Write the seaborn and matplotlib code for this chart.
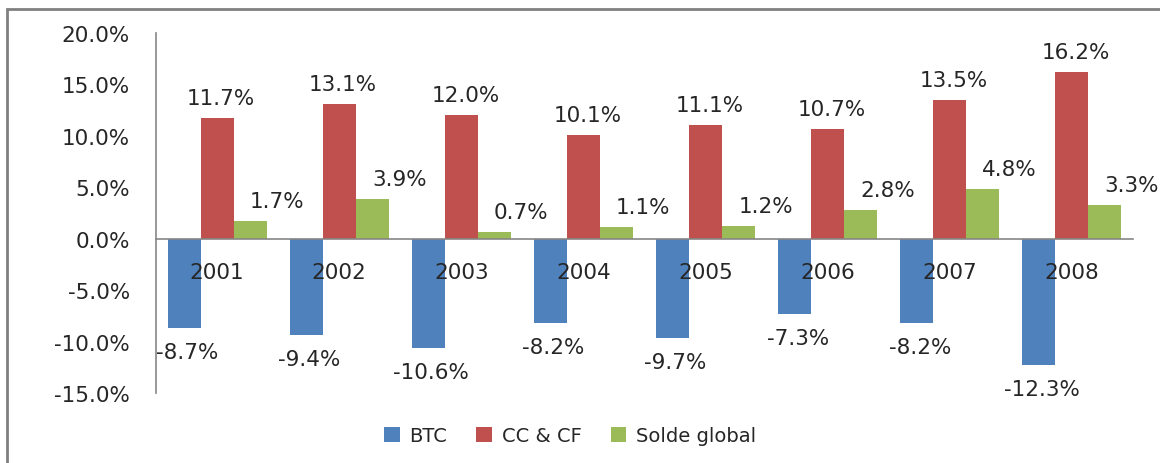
import matplotlib
matplotlib.use("Agg")
import matplotlib.pyplot as plt
from matplotlib.patches import Rectangle
from matplotlib.ticker import FuncFormatter
import seaborn as sns
import pandas as pd

years = ["2001", "2002", "2003", "2004", "2005", "2006", "2007", "2008"]
btc = [-8.7, -9.4, -10.6, -8.2, -9.7, -7.3, -8.2, -12.3]
cc_cf = [11.7, 13.1, 12.0, 10.1, 11.1, 10.7, 13.5, 16.2]
solde = [1.7, 3.9, 0.7, 1.1, 1.2, 2.8, 4.8, 3.3]
series_names = ["BTC", "CC & CF", "Solde global"]
y_ticks = [-15, -10, -5, 0, 5, 10, 15, 20]

colors = ["#4F81BD", "#C0504D", "#9BBB59"]
text_color = "#262626"
axis_color = "#868686"

df = pd.DataFrame({
    "year": years * 3,
    "series": [series_names[0]] * 8 + [series_names[1]] * 8 + [series_names[2]] * 8,
    "value": btc + cc_cf + solde,
})

sns.set_style("white")
plt.rcParams["font.family"] = ["DejaVu Sans"]

fig = plt.figure(figsize=(11.6, 4.64), dpi=100)
ax = fig.add_axes([156 / 1160, (464 - 394) / 464, (1133 - 156) / 1160, 360 / 464])

sns.barplot(data=df, x="year", y="value", hue="series", order=years,
            hue_order=series_names, palette=colors, width=0.81, gap=0,
            saturation=1, ax=ax, errorbar=None, linewidth=0)

ax.set_ylim(-15, 20)
ax.set_xlim(-0.5, 7.5)
ax.set_yticks(y_ticks)
ax.yaxis.set_major_formatter(FuncFormatter(lambda v, p: f"{v:.1f}%"))
ax.tick_params(axis="y", length=0, pad=26 * 0.72, labelsize=15.5, labelcolor=text_color)
ax.tick_params(axis="x", length=0, pad=17, labelsize=15.5, labelcolor=text_color)
ax.xaxis.set_zorder(10)
ax.set_xlabel("")
ax.set_ylabel("")
for s in ["top", "right"]:
    ax.spines[s].set_visible(False)
ax.spines["left"].set_color(axis_color)
ax.spines["bottom"].set_color(axis_color)
ax.spines["bottom"].set_position(("data", 0))
ax.spines["left"].set_linewidth(1.2)
ax.spines["bottom"].set_linewidth(1.2)
ax.spines["bottom"].set_zorder(5)
ax.grid(False)

# data labels
dx_series = [3, 4, 27]
for ci, cont in enumerate(ax.containers):
    for bar in cont:
        h = bar.get_height()
        x = bar.get_x() + bar.get_width() / 2
        dy = 20 if h >= 0 else -24
        ax.annotate(f"{h:.1f}%", (x, h), xytext=(dx_series[ci], dy),
                    textcoords="offset pixels", ha="center", va="center",
                    fontsize=15.5, color=text_color)

handles, labels = ax.get_legend_handles_labels()
if ax.get_legend() is not None:
    ax.get_legend().remove()
fig.legend(handles, labels, loc="center", bbox_to_anchor=(570 / 1160, 1 - 437 / 464),
           ncol=3, frameon=False, fontsize=14, handlelength=0.8, handleheight=0.8,
           handletextpad=0.5, columnspacing=1.5, labelcolor=text_color)

fig.add_artist(Rectangle((7 / 1160, -0.1), 1.2, 1.1 - 10 / 464, transform=fig.transFigure,
                         fill=False, edgecolor="#808080", linewidth=2))

fig.savefig("out.png", dpi=100)
